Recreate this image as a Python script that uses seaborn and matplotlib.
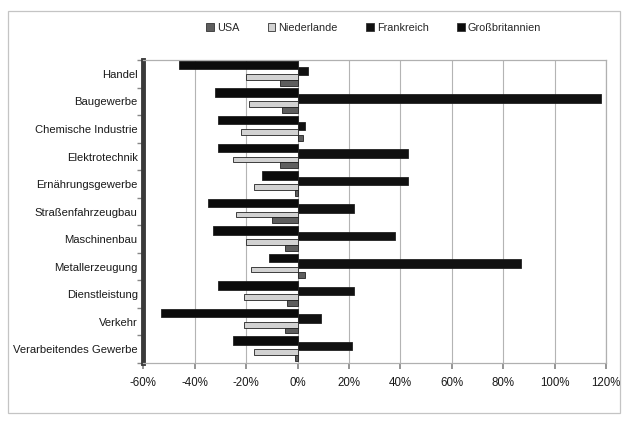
import matplotlib
matplotlib.use("Agg")
import matplotlib.pyplot as plt
import matplotlib.ticker as mticker
from matplotlib.patches import Patch, Rectangle
import seaborn as sns
import pandas as pd

# Branchen (top to bottom) and change per country, in percent
categories = [
    "Handel", "Baugewerbe", "Chemische Industrie", "Elektrotechnik",
    "Ernährungsgewerbe", "Straßenfahrzeugbau", "Maschinenbau",
    "Metallerzeugung", "Dienstleistung", "Verkehr", "Verarbeitendes Gewerbe",
]
usa = [-7, -6, 2, -7, -1, -10, -5, 3, -4, -5, -1]
niederlande = [-20, -19, -22, -25, -17, -24, -20, -18, -21, -21, -17]
frankreich = [4, 118, 3, 43, 43, 22, 38, 87, 22, 9, 21]
grossbritannien = [-46, -32, -31, -31, -14, -35, -33, -11, -31, -53, -25]

countries = ["USA", "Niederlande", "Frankreich", "Großbritannien"]
series = [usa, niederlande, frankreich, grossbritannien]
colors = {"USA": "#5e5e5e", "Niederlande": "#d2d2d2",
          "Frankreich": "#111111", "Großbritannien": "#0b0b0b"}

rows = []
for country, vals in zip(countries, series):
    for cat, v in zip(categories, vals):
        rows.append({"Branche": cat, "Land": country, "Wert": v})
df = pd.DataFrame(rows)

sns.set_theme(style="white")
plt.rcParams["font.family"] = ["Liberation Sans", "DejaVu Sans"]

fig = plt.figure(figsize=(6.23, 4.24), dpi=100)
ax = fig.add_axes([0.230, 0.144, 0.743, 0.714])

draw_order = ["Großbritannien", "Frankreich", "Niederlande", "USA"]
sns.barplot(data=df, y="Branche", x="Wert", hue="Land", order=categories,
            hue_order=draw_order, palette=colors, orient="h", width=0.85,
            gap=0, edgecolor="#222222", linewidth=0.6, ax=ax, legend=False,
            errorbar=None, zorder=3)

# black bars drawn a bit thicker, as in the 3D look
for container, name in zip(ax.containers, draw_order):
    if name in ("Großbritannien", "Frankreich"):
        for p in container.patches:
            h = p.get_height()
            y = p.get_y()
            p.set_height(h * 1.45)
            p.set_y(y - h * 0.225)

ax.set_xlim(-60, 120)
ax.set_ylim(len(categories) - 0.5, -0.5)
ax.xaxis.set_major_locator(mticker.MultipleLocator(20))
ax.xaxis.set_major_formatter(mticker.FuncFormatter(lambda v, _: f"{v:.0f}%"))
ax.grid(axis="x", color="#b4b4b4", linewidth=0.8, zorder=0)
ax.set_xlabel("")
ax.set_ylabel("")

ax.yaxis.set_minor_locator(mticker.FixedLocator(
    [i - 0.5 for i in range(len(categories) + 1)]))
ax.tick_params(axis="y", which="major", length=0, pad=4, labelsize=8.1,
               labelcolor="#1a1a1a")
ax.tick_params(axis="y", which="minor", length=4, color="#888888",
               direction="out", left=True)
ax.tick_params(axis="x", which="major", length=4, color="#888888",
               direction="out", bottom=True, labelsize=8.3,
               labelcolor="#1a1a1a", pad=6)

ax.spines["left"].set_color("#3a3a3a")
ax.spines["left"].set_linewidth(3.5)
for s in ("bottom", "top", "right"):
    ax.spines[s].set_color("#b0b0b0")
    ax.spines[s].set_linewidth(0.9)

handles = [Patch(facecolor=colors[c], edgecolor="#333333", linewidth=0.6)
           for c in countries]
fig.legend(handles, countries, loc="center", bbox_to_anchor=(0.60, 0.934),
           ncol=4, frameon=False, fontsize=7.8, handlelength=0.7,
           handleheight=0.7, handletextpad=0.3, columnspacing=2.6)

fig.patches.append(Rectangle((8 / 623, 11 / 424), 612 / 623, 402 / 424,
                             transform=fig.transFigure, fill=False,
                             edgecolor="#c4c4c4", linewidth=0.9))

fig.savefig("out.png", dpi=100, facecolor="white")
